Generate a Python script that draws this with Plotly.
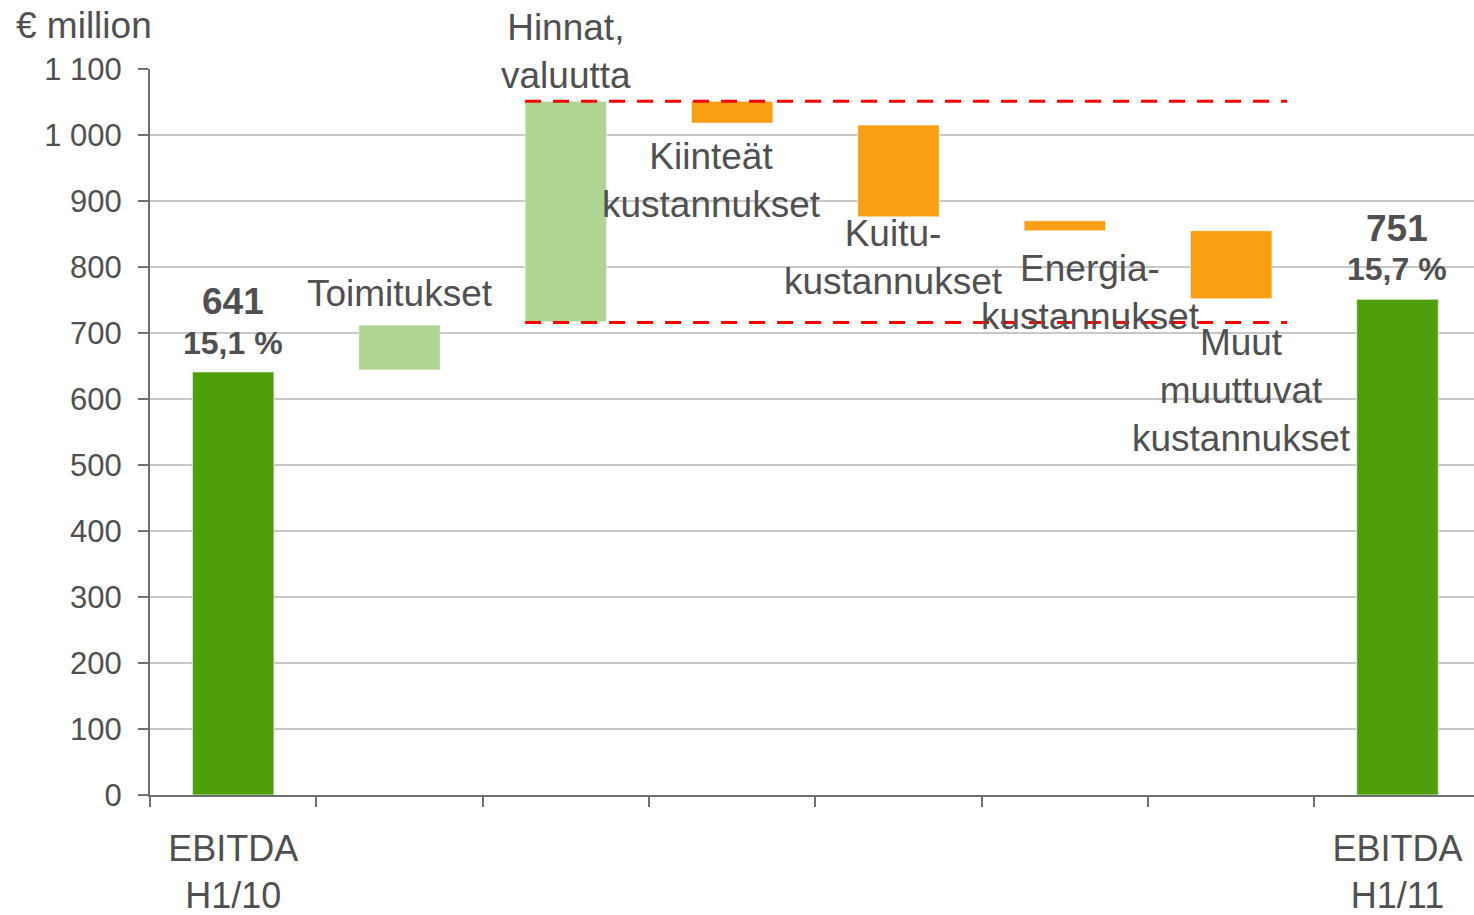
import plotly.graph_objects as go

# ---- data ----
categories = ["EBITDA H1/10", "Toimitukset", "Hinnat, valuutta", "Kiinteät kustannukset",
              "Kuitukustannukset", "Energiakustannukset", "Muut muuttuvat kustannukset", "EBITDA H1/11"]
bar_base = [0, 644, 717, 1018, 876, 855, 752, 0]
bar_top = [641, 712, 1051, 1051, 1015, 870, 855, 751]
bar_kind = ["total", "up", "up", "down", "down", "down", "down", "total"]
tick_labels = ["EBITDA<br>H1/10", "", "", "", "", "", "", "EBITDA<br>H1/11"]
y_ticks = [0, 100, 200, 300, 400, 500, 600, 700, 800, 900, 1000, 1100]
y_tick_text = ["0", "100", "200", "300", "400", "500", "600", "700", "800", "900", "1 000", "1 100"]
range_levels = [1051, 716]
total_values = ["641", "751"]
total_margins = ["15,1 %", "15,7 %"]
change_labels = ["Toimitukset", "Hinnat,<br>valuutta", "Kiinteät<br>kustannukset",
                 "Kuitu-<br>kustannukset", "Energia-<br>kustannukset",
                 "Muut<br>muuttuvat<br>kustannukset"]

colors = {"total": "#4F9E0C", "up": "#B0D491", "down": "#FA9E14"}
FONT = "Liberation Sans, Arial, sans-serif"
TXT = "#505050"

fig = go.Figure()
fig.add_trace(go.Bar(
    x=categories,
    y=[t - b for t, b in zip(bar_top, bar_base)],
    base=bar_base,
    width=0.49,
    marker=dict(color=[colors[k] for k in bar_kind], line=dict(width=1, color="rgba(255,255,255,0.6)")),
    hoverinfo="skip",
))

# dashed range lines
for lv in range_levels:
    fig.add_shape(type="line", xref="x", yref="y", x0=1.755, x1=6.337, y0=lv, y1=lv,
                  line=dict(color="#FF0000", width=3, dash="16px,12px"), layer="above")

def ypaper(v):
    return v / 1100.0

ann = []
# change labels: (x index, y data center)
label_pos = [(1.0, 760), (2.0, 1126), (2.873, 931), (3.968, 815), (5.152, 762), (6.06, 613)]
for txt, (xp, yp) in zip(change_labels, label_pos):
    ann.append(dict(x=xp, y=ypaper(yp), xref="x", yref="paper", text=txt, showarrow=False,
                    font=dict(family=FONT, size=37, color=TXT), xanchor="center", yanchor="middle"))

for i, (xi, yv, ym) in enumerate([(0, 747, 685), (7, 858, 797)]):
    ann.append(dict(x=xi, y=ypaper(yv), xref="x", yref="paper", text="<b>%s</b>" % total_values[i],
                    showarrow=False, font=dict(family=FONT, size=37, color=TXT),
                    xanchor="center", yanchor="middle"))
    ann.append(dict(x=xi, y=ypaper(ym), xref="x", yref="paper", text="<b>%s</b>" % total_margins[i],
                    showarrow=False, font=dict(family=FONT, size=32, color=TXT),
                    xanchor="center", yanchor="middle"))

ann.append(dict(x=-0.1027, y=1.0606, xref="paper", yref="paper", text="€ million", showarrow=False,
                font=dict(family=FONT, size=37, color=TXT), xanchor="left", yanchor="middle"))

fig.update_layout(
    width=1474, height=915,
    margin=dict(l=150, r=0, t=69, b=120),
    plot_bgcolor="white", paper_bgcolor="white",
    showlegend=False,
    bargap=0.5,
    annotations=ann,
    font=dict(family=FONT, color=TXT),
)
fig.update_xaxes(
    type="category", categoryorder="array", categoryarray=categories,
    tickmode="array", tickvals=categories, ticktext=tick_labels,
    tickson="boundaries", ticks="outside", ticklen=10, tickwidth=2, tickcolor="#707070",
    showline=True, linecolor="#707070", linewidth=2, showgrid=False,
    tickfont=dict(family=FONT, size=36, color=TXT),
    range=[-0.5, 7.46], ticklabelstandoff=21, automargin=False,
)
fig.update_yaxes(
    range=[0, 1100], tickmode="array", tickvals=y_ticks, ticktext=y_tick_text,
    ticks="outside", ticklen=10, tickwidth=2, tickcolor="#707070",
    showline=True, linecolor="#707070", linewidth=2,
    showgrid=True, gridcolor="#C8C8C8", gridwidth=2, zeroline=False,
    tickfont=dict(family=FONT, size=31, color=TXT), ticklabelstandoff=10, automargin=False,
)

fig.write_html("out.html", config={"displayModeBar": False},
               post_script="document.body.style.margin='0';document.body.style.overflow='hidden';")
